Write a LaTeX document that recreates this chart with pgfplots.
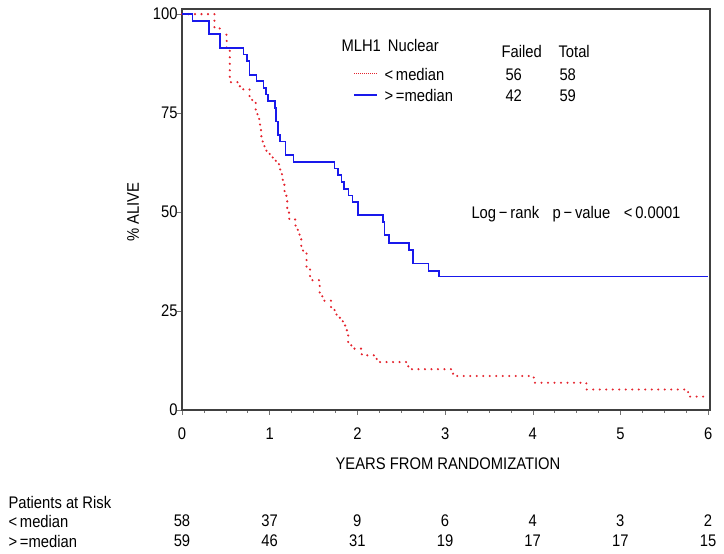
\documentclass[border=0pt]{standalone}
\usepackage{fontspec}
\setmainfont{Liberation Sans}[FakeStretch=0.88]
\usepackage{pgfplots}
\pgfplotsset{compat=1.18}
\definecolor{kmred}{RGB}{228,35,45}
\definecolor{kmblue}{RGB}{25,25,235}
\newcommand\fs{\fontsize{16.8bp}{19bp}\selectfont}

% Kaplan-Meier steps: time (years), % alive after the step
\pgfplotstableread{
t s
0 100
0.37 96.6
0.43 94.8
0.51 91.4
0.545 82.8
0.66 81.0
0.77 79.3
0.80 77.6
0.84 75.9
0.86 74.1
0.88 72.4
0.89 70.7
0.905 69.0
0.92 67.2
0.94 65.5
1.00 63.8
1.07 62.1
1.12 60.3
1.14 58.6
1.15 56.9
1.17 55.2
1.19 53.4
1.20 50.0
1.22 48.3
1.29 46.6
1.32 44.8
1.34 43.1
1.36 41.4
1.38 39.7
1.42 36.2
1.46 32.8
1.57 29.3
1.60 27.6
1.70 25.9
1.74 24.1
1.80 22.4
1.86 20.7
1.88 19.0
1.895 17.2
1.93 15.5
2.05 13.8
2.22 12.1
2.58 10.3
3.09 8.6
4.01 6.9
4.61 5.2
5.77 3.4
6.0 3.4
}\lowmed

\pgfplotstableread{
t s
0 100
0.12 98.3
0.31 94.9
0.43 91.5
0.70 89.8
0.745 88.1
0.77 84.7
0.85 83.1
0.93 81.4
0.955 79.7
0.98 78.0
1.06 76.3
1.07 72.9
1.095 69.5
1.12 67.8
1.18 64.4
1.27 62.7
1.74 61.0
1.78 59.3
1.82 57.6
1.85 55.9
1.90 54.2
1.945 52.5
2.01 49.2
2.29 47.5
2.31 44.2
2.36 42.1
2.59 40.4
2.63 37.0
2.81 35.2
2.93 33.7
6.0 33.7
}\highmed

\begin{document}
\begin{tikzpicture}[x=1bp,y=1bp]
\useasboundingbox (-182,-144) rectangle (542,410);
\begin{axis}[
  at={(0,0)}, anchor=south west,
  scale only axis, width=528bp, height=401bp,
  xmin=0, xmax=6.02, ymin=0, ymax=101.3,
  xtick={0,1,2,3,4,5,6}, ytick={0,25,50,75,100},
  minor x tick num=3,
  tick align=outside, tick pos=left,
  major tick length=5bp, minor tick length=3bp,
  axis line style={black!75, line width=1.2bp},
  every tick/.style={black!55, line width=0.6bp},
  tick label style={font=\fs},
  /pgf/number format/assume math mode=true,
  xticklabel style={yshift=-9bp},
  yticklabel style={xshift=4bp},
  clip=false,
]
\addplot[const plot, kmred, line width=2.3bp, line cap=round,
  dash pattern=on 0pt off 6.5bp] table[x=t, y=s] {\lowmed};
\addplot[const plot, kmblue, line width=1.7bp] table[x=t, y=s] {\highmed};
\end{axis}

% y label
\node[font=\fs, rotate=90] at (-49,198) {\% ALIVE};
% x label
\node[font=\fs] at (266,-54) {YEARS FROM RANDOMIZATION};

% legend block
\node[font=\fs, anchor=west] at (156,364) {MLH1\, Nuclear};
\node[font=\fs, anchor=west] at (316,358) {Failed};
\node[font=\fs, anchor=west] at (373,358) {Total};
\draw[kmred, line width=1bp, dash pattern=on 1.2bp off 0.8bp] (172,336) -- (195,336);
\node[font=\fs, anchor=west] at (199,335) {<\,median};
\node[font=\fs, anchor=west] at (320,335) {56};
\node[font=\fs, anchor=west] at (374,335) {58};
\draw[kmblue, line width=1.3bp] (172,315) -- (195,315);
\node[font=\fs, anchor=west] at (199,314) {>\,=median};
\node[font=\fs, anchor=west] at (320,314) {42};
\node[font=\fs, anchor=west] at (374,314) {59};

% log-rank
\node[font=\fs, anchor=west] at (286,196) {Log\,−\,rank\;\; p\,−\,value\;\; <\,0.0001};

% patients at risk
\node[font=\fs, anchor=west] at (-177,-92) {Patients at Risk};
\node[font=\fs, anchor=west] at (-177,-111) {<\,median};
\node[font=\fs, anchor=west] at (-177,-131) {>\,=median};
\foreach \x/\a/\b in {0/58/59, 1/37/46, 2/9/31, 3/6/19, 4/4/17, 5/3/17, 6/2/15} {
  \node[font=\fs] at (87.67*\x,-111) {\a};
  \node[font=\fs] at (87.67*\x,-131) {\b};
}
\end{tikzpicture}
\end{document}
